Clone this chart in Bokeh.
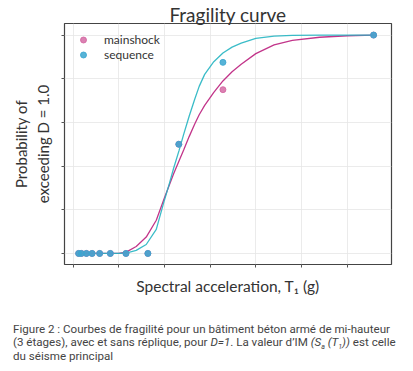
from bokeh.plotting import figure
from bokeh.models import Range1d, FixedTicker, Div, Legend, LegendItem, CustomJSTickFormatter
from bokeh.layouts import column
from bokeh.embed import file_html
from bokeh.resources import INLINE

# observed points (spectral acceleration in g, fraction exceeding D = 1.0)
im_points = [0.06, 0.09, 0.145, 0.207, 0.29, 0.407, 0.578, 0.818, 1.157, 1.64, 3.29]
mainshock_points = [0, 0, 0, 0, 0, 0, 0, 0, 0.5, 0.75, 1.0]
sequence_points = [0, 0, 0, 0, 0, 0, 0, 0, 0.5, 0.875, 1.0]

# fitted fragility curves
curve_x = [0.06, 0.5, 0.58, 0.69, 0.80, 0.91, 1.0, 1.05, 1.1, 1.16, 1.21, 1.27, 1.33, 1.38,
           1.44, 1.54, 1.64, 1.74, 1.84, 2.0, 2.2, 2.4, 2.7, 3.0, 3.29]
mainshock_curve = [0, 0, 0.006, 0.032, 0.075, 0.152, 0.255, 0.31, 0.365, 0.425, 0.474, 0.535,
                   0.592, 0.635, 0.678, 0.738, 0.79, 0.832, 0.866, 0.915, 0.955, 0.976, 0.99,
                   0.997, 1.0]
sequence_curve = [0, 0, 0.002, 0.014, 0.041, 0.11, 0.245, 0.315, 0.39, 0.472, 0.545, 0.628,
                  0.705, 0.765, 0.82, 0.878, 0.918, 0.945, 0.963, 0.985, 0.995, 0.999, 1.0,
                  1.0, 1.0]

x_ticks = [0, 0.5, 1.0, 1.5, 2.0, 2.5, 3.0]
y_ticks = [0, 0.2, 0.4, 0.6, 0.8, 1.0]

PINK_LINE = "#c2358a"
TEAL_LINE = "#26b5c2"
PINK_PT = "#d2619f"
TEAL_PT = "#3aa6d0"
FONT = "Lato"
TXT = "#333333"

p = figure(width=397, height=321, output_backend="svg", toolbar_location=None,
           x_range=Range1d(-0.095, 3.486), y_range=Range1d(-0.0506, 1.053),
           min_border_left=55, min_border_right=14, min_border_top=0, min_border_bottom=59,
           title="Fragility curve")

p.title.align = "center"
p.title.text_font = FONT
p.title.text_font_size = "19px"
p.title.text_font_style = "normal"
p.title.text_color = TXT
p.title.standoff = -4

p.outline_line_color = "#444444"
p.outline_line_width = 1.2
p.background_fill_color = "white"
p.border_fill_color = "white"

for ax in (p.xaxis, p.yaxis):
    ax.axis_line_color = None
    ax.major_tick_line_color = "#555555"
    ax.major_tick_in = 0
    ax.major_tick_out = 3
    ax.minor_tick_line_color = None
    ax.major_label_text_font_size = "0px"
    ax.major_label_standoff = 0
    ax.formatter = CustomJSTickFormatter(code="return ''")
    ax.axis_label_text_font = FONT
    ax.axis_label_text_font_style = "normal"
    ax.axis_label_text_color = TXT
    ax.axis_label_text_font_size = "15px"

p.xaxis.ticker = FixedTicker(ticks=x_ticks)
p.yaxis.ticker = FixedTicker(ticks=y_ticks)
p.xaxis.axis_label = "Spectral acceleration, T\u2081 (g)"
p.xaxis.axis_label_text_font_size = "15.5px"
p.xaxis.axis_label_standoff = 9
p.yaxis.axis_label = "Probability of\nexceeding D = 1.0"
p.yaxis.axis_label_standoff = 10

p.xgrid.ticker = FixedTicker(ticks=x_ticks)
p.ygrid.ticker = FixedTicker(ticks=y_ticks)
p.grid.grid_line_color = "#e6e6e6"
p.grid.grid_line_width = 0.8

l1 = p.line(curve_x, mainshock_curve, line_color=PINK_LINE, line_width=1.3)
l2 = p.line(curve_x, sequence_curve, line_color=TEAL_LINE, line_width=1.3, line_alpha=0.9)
s1 = p.scatter(im_points, mainshock_points, size=6, fill_color=PINK_PT, line_color=PINK_PT, alpha=0.8)
s2 = p.scatter(im_points, sequence_points, size=6, fill_color=TEAL_PT, line_color=TEAL_PT, alpha=0.85)

legend = Legend(items=[LegendItem(label="mainshock", renderers=[s1], index=0),
                       LegendItem(label="sequence", renderers=[s2], index=0)],
                location="top_left", margin=9, padding=16, spacing=0,
                glyph_width=20, glyph_height=15, label_height=15, label_standoff=11,
                label_text_font=FONT, label_text_font_size="12px", label_text_color=TXT,
                background_fill_alpha=0, border_line_color=None)
p.add_layout(legend)

caption = Div(text=(
    "Figure 2 : Courbes de fragilité pour un bâtiment béton armé de mi-hauteur<br>"
    "(3 étages), avec et sans réplique, pour <i>D=1</i>. La valeur d’IM "
    "<i>(S<sub style='font-size:7px;line-height:0'>a</sub> (T<sub style='font-size:7px;line-height:0'>1</sub>))</i> est celle<br>"
    "du séisme principal"),
    width=397, margin=(0, 0, 0, 0),
    styles={"font-family": "Roboto", "font-size": "11.6px", "line-height": "13.3px",
            "color": "#444444", "padding-left": "5px"})

layout = column(p, caption, spacing=0, margin=(2, 0, 0, 8))

open("out.html", "w").write(file_html(layout, INLINE))
